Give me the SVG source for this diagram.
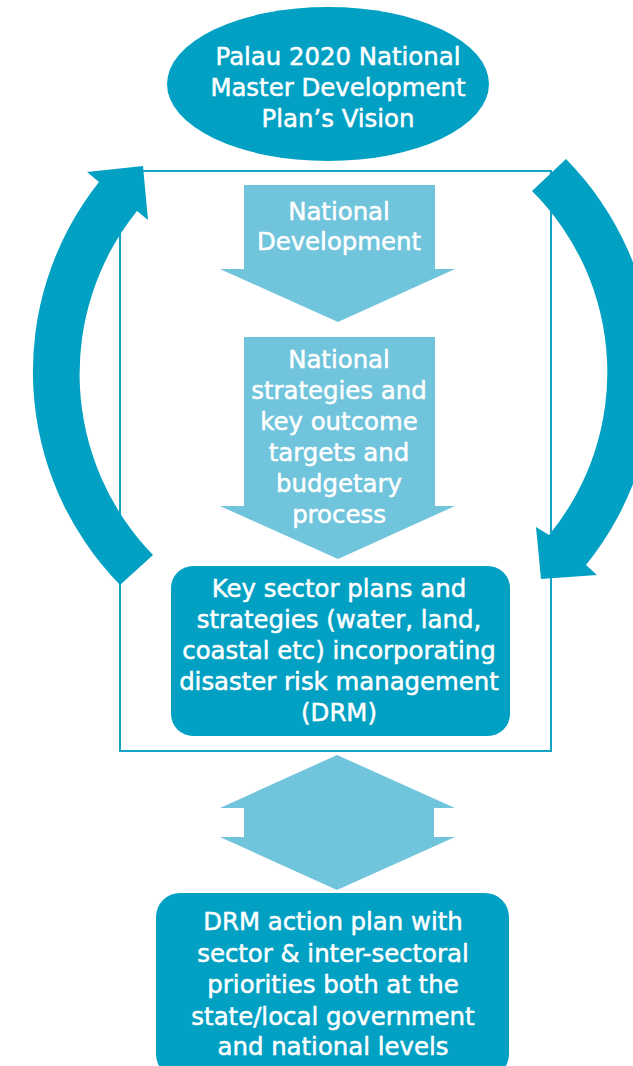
<svg xmlns="http://www.w3.org/2000/svg" width="633" height="1066" viewBox="0 0 633 1066">
<style>
.dark{fill:#02a1c3}
.light{fill:#70c4dc}
.frame{fill:none;stroke:#13a3c5;stroke-width:2}
text{font-family:"DejaVu Sans",Verdana,sans-serif;font-size:24.4px;fill:#ffffff;stroke:#ffffff;stroke-width:0.5;text-anchor:middle}
</style>
<rect width="633" height="1066" fill="#ffffff"/>
<g id="frame"><rect class="frame" x="120" y="171" width="431" height="580"/></g>
<g id="vision">
<ellipse class="dark" cx="328" cy="84" rx="161" ry="77"/>
<text x="338" y="65">Palau 2020 National</text>
<text x="338" y="96">Master Development</text>
<text x="338" y="127">Plan’s Vision</text>
</g>
<g id="national-development">
<polygon class="light" points="244,185 435,185 435,269 455,269 338,322 220,269 244,269"/>
<text x="339" y="220">National</text>
<text x="339" y="250">Development</text>
</g>
<g id="national-strategies">
<polygon class="light" points="244,337 435,337 435,506 455,506 338,559 220,506 244,506"/>
<text x="339" y="368">National</text>
<text x="339" y="399">strategies and</text>
<text x="339" y="430">key outcome</text>
<text x="339" y="461">targets and</text>
<text x="339" y="492">budgetary</text>
<text x="339" y="523">process</text>
</g>
<g id="key-sector">
<rect class="dark" x="171" y="566" width="339" height="170" rx="22"/>
<text x="339" y="597">Key sector plans and</text>
<text x="339" y="628">strategies (water, land,</text>
<text x="339" y="659">coastal etc) incorporating</text>
<text x="339" y="690">disaster risk management</text>
<text x="339" y="721">(DRM)</text>
</g>
<g id="drm-action">
<rect class="dark" x="156" y="893" width="353" height="185" rx="24"/>
<text x="333" y="930">DRM action plan with</text>
<text x="333" y="962">sector &amp; inter-sectoral</text>
<text x="333" y="993">priorities both at the</text>
<text x="333" y="1025">state/local government</text>
<text x="333" y="1055">and national levels</text>
</g>
<g id="connectors">
<path class="dark" d="M 99 182 L 87 172 L 143 166 L 148 220 L 137 211 A 260 260 0 0 0 153 555 L 120 585 A 305 305 0 0 1 99 182 Z"/>
<path class="dark" d="M 532 191 L 566 159 A 305 305 0 0 1 586 565 L 597 575 L 541 579 L 536 527 L 549 535 A 256 256 0 0 0 532 191 Z"/>
<polygon class="light" points="337,755 455,808 434,808 434,837 455,837 337,890 220,837 244,837 244,808 220,808"/>
</g>
</svg>
